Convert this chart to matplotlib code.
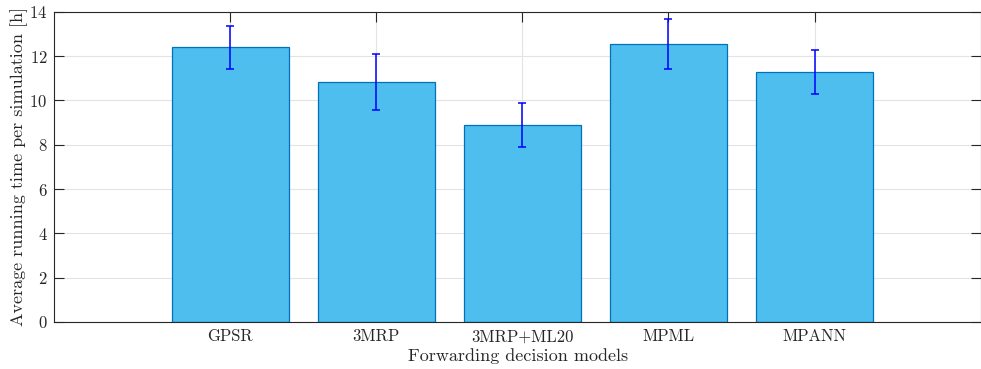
import matplotlib
matplotlib.use("Agg")
import matplotlib.pyplot as plt
import numpy as np

models = ["GPSR", "3MRP", "3MRP+ML20", "MPML", "MPANN"]
mean_hours = [12.40, 10.84, 8.90, 12.56, 11.28]
err_low = [0.97, 1.27, 0.99, 1.14, 0.99]
err_high = [0.94, 1.27, 1.00, 1.11, 0.98]
y_ticks = [0, 2, 4, 6, 8, 10, 12, 14]

plt.rcParams["font.family"] = ["cmr10", "DejaVu Serif"]
plt.rcParams["axes.formatter.use_mathtext"] = True

text_col = "#262626"
fig = plt.figure(figsize=(9.81, 3.69), dpi=100)
ax = fig.add_axes([0.0554, 0.1274, 0.9451, 0.8409])

x = np.arange(1, len(models) + 1)
ax.bar(x, mean_hours, width=0.8, color="#4DBEEE", edgecolor="#0072BD",
       linewidth=0.9, zorder=2)
ax.errorbar(x, mean_hours, yerr=[err_low, err_high], fmt="none",
            ecolor="#0000FF", elinewidth=1.1, capsize=3.2, capthick=1.1,
            zorder=3)

ax.set_xlim(-0.203, 6.142)
ax.set_ylim(0, 14)
ax.set_xticks(x)
ax.set_xticklabels(models)
ax.set_yticks(y_ticks)
ax.grid(True, color="#e3e3e3", linewidth=0.8, zorder=0)
ax.set_axisbelow(True)

ax.tick_params(direction="in", length=7, width=0.8, colors=text_col,
               labelsize=12, top=True, right=True, pad=5)
for s in ax.spines.values():
    s.set_color(text_col)
    s.set_linewidth(0.8)

ax.set_xlabel("Forwarding decision models", fontsize=13, color=text_col,
              labelpad=3)
ax.set_ylabel("Average running time per simulation [h]", fontsize=13,
              color=text_col, labelpad=1)

fig.savefig("out.png", dpi=100)
